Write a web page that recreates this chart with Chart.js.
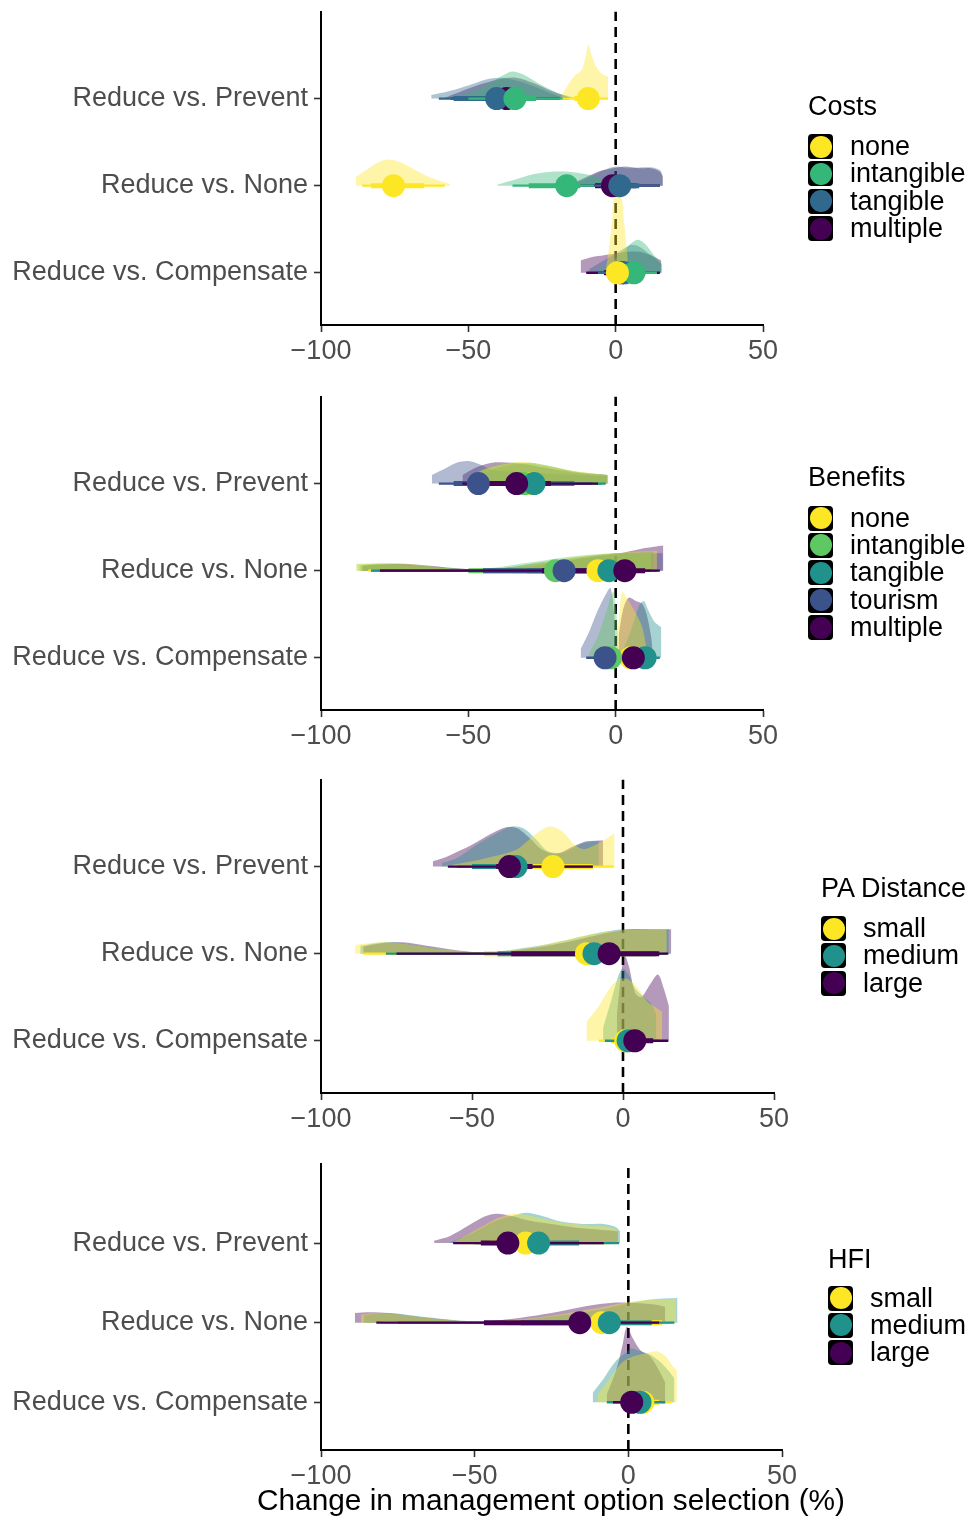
<!DOCTYPE html>
<html>
<head>
<meta charset="utf-8">
<script src="https://cdn.jsdelivr.net/npm/chart.js@4.4.1/dist/chart.umd.min.js"></script>
<style>
  body { margin: 0; background: #fff; width: 968px; height: 1516px; position: relative; overflow: hidden;
         font-family: "Liberation Sans", Arial, sans-serif; }
  canvas { position: absolute; left: 0; }
  .legend { position: absolute; color: #000; font-size: 27px; }
  .legend .ttl { position: absolute; left: 0; white-space: nowrap; line-height: 30px; }
  .legend .item { position: absolute; left: 0; white-space: nowrap; height: 26px; }
  .legend .key { position: absolute; left: 0; top: 0; width: 25px; height: 25px; background: #000; border-radius: 4px; }
  .legend .key i { position: absolute; left: 1.5px; top: 1.5px; width: 22px; height: 22px; border-radius: 50%; }
  .legend .lab { position: absolute; left: 42px; top: -2px; line-height: 28px; }
  #xtitle { position: absolute; left: 201px; width: 700px; top: 1483px; text-align: center; color: #000;
            font-size: 29.8px; line-height: 34px; white-space: nowrap; }
</style>
</head>
<body>
<canvas id="p1" width="968" height="385" style="top:0px"></canvas>
<canvas id="p2" width="968" height="385" style="top:385px"></canvas>
<canvas id="p3" width="968" height="385" style="top:768px"></canvas>
<canvas id="p4" width="968" height="364" style="top:1152px"></canvas>
<div id="xtitle">Change in management option selection (%)</div>
<script>
// rows (top to bottom) and their y positions
const rowLabels = ['Reduce vs. Prevent', 'Reduce vs. None', 'Reduce vs. Compensate'];
const rowBase = [3, 2, 1];
const xTicks = [-100, -50, 0, 50];

// ---- Costs ----
const costLevels = ['none', 'intangible', 'tangible', 'multiple'];
const costColors = ['#FDE725', '#35B779', '#31688E', '#440154'];
const costMedians = [[-9.3, -34.2, -40.4, -37], [-75.4, -16.6, 1.4, -1.1], [0.6, 6.2, 3, 2]];
const costInner = [
  [[-14, -6], [-42, -27], [-55, -28], [-48, -28]],
  [[-83, -65], [-29.5, -12], [-5, 8], [-7, 7]],
  [[-1, 2], [2, 10], [0, 9], [-4, 10]]
];
const costOuter = [
  [[-18, -2.6], [-50, -16], [-60, -22], [-56, -19]],
  [[-86, -58], [-35, -7.4], [-12, 15], [-14, 15]],
  [[-3, 4], [-2, 14], [-6, 14], [-10, 15]]
];
const costDensity = [
  [
    [[-18.4, 0.03], [-16.5, 0.14], [-14, 0.26], [-11.5, 0.33], [-10.2, 0.48], [-9.2, 0.62], [-8.2, 0.5], [-6.5, 0.36], [-4.5, 0.28], [-2.6, 0.25]],
    [[-57, 0.01], [-50, 0.06], [-43, 0.17], [-38, 0.27], [-35, 0.31], [-31, 0.27], [-26, 0.17], [-20, 0.07], [-14, 0.01]],
    [[-62.6, 0.04], [-57, 0.08], [-50, 0.15], [-44, 0.22], [-39, 0.24], [-33, 0.2], [-27, 0.13], [-22, 0.06], [-18.6, 0.02]],
    [[-58, 0.01], [-55, 0.05], [-48, 0.14], [-40, 0.22], [-34, 0.24], [-28, 0.18], [-22, 0.09], [-17, 0.03], [-15, 0.01]]
  ],
  [
    [[-88.2, 0.1], [-85, 0.17], [-81, 0.26], [-77.5, 0.3], [-73, 0.27], [-68, 0.18], [-64, 0.11], [-60, 0.06], [-56.2, 0.02]],
    [[-40.2, 0.01], [-34, 0.07], [-28, 0.13], [-22, 0.16], [-16, 0.16], [-10, 0.13], [-5, 0.08], [0, 0.03], [3, 0.01]],
    [[-14, 0.02], [-9, 0.1], [-4, 0.18], [0, 0.22], [4, 0.2], [8, 0.21], [12.5, 0.21], [15, 0.18], [16, 0.12]],
    [[-15, 0.02], [-10, 0.1], [-5, 0.17], [-1, 0.2], [3, 0.22], [8, 0.2], [12, 0.2], [15, 0.16], [16, 0.1]]
  ],
  [
    [[-3.4, 0.02], [-2.4, 0.25], [-1.2, 0.6], [-0.5, 0.87], [1.8, 0.87], [2.8, 0.6], [3.8, 0.25], [4.4, 0.02]],
    [[-6, 0.02], [-2, 0.1], [1, 0.2], [4, 0.3], [7.4, 0.38], [10, 0.33], [13, 0.2], [15.8, 0.1]],
    [[-9, 0.04], [-4, 0.14], [0, 0.22], [3, 0.28], [5, 0.32], [8, 0.3], [12, 0.2], [15.5, 0.1]],
    [[-11.9, 0.14], [-8, 0.18], [-4, 0.2], [0, 0.22], [4, 0.24], [8, 0.24], [12, 0.2], [15.5, 0.14]]
  ]
];
const costPointOrder = [3, 2, 1, 0];

// ---- Benefits ----
const benLevels = ['none', 'intangible', 'tangible', 'tourism', 'multiple'];
const benColors = ['#FDE725', '#5EC962', '#21918C', '#3B528B', '#440154'];
const benMedians = [[-30, -31, -27.7, -46.6, -33.6], [-6, -20.4, -2.3, -17.5, 3.1], [5.1, -1.7, 10, -3.6, 6]];
const benInner = [
  [[-41, -17], [-42, -18], [-40, -14], [-55, -32], [-44, -22]],
  [[-35, 5], [-50, -3], [-30, 7], [-45, -5], [-25, 10]],
  [[2, 8], [-5, 0], [6, 13], [-6, -1], [3, 9]]
];
const benOuter = [
  [[-49, -5], [-50, -5], [-48, -3.4], [-60, -8], [-52, -6]],
  [[-84, 14], [-83, 12], [-83, 14], [-80, 12], [-80, 15]],
  [[0.5, 10], [-8, 2], [3, 15], [-10, 2], [1, 12]]
];
const benDensity = [
  [
    [[-50, 0.07], [-44, 0.17], [-37, 0.23], [-31, 0.25], [-24, 0.21], [-15, 0.15], [-6, 0.11], [-2.7, 0.1]],
    [[-50, 0.08], [-44, 0.18], [-38, 0.23], [-32, 0.24], [-25, 0.21], [-16, 0.15], [-7, 0.11], [-3, 0.1]],
    [[-48, 0.06], [-42, 0.16], [-35, 0.22], [-29, 0.24], [-22, 0.2], [-14, 0.14], [-6, 0.11], [-2.5, 0.1]],
    [[-62.4, 0.1], [-58, 0.17], [-54, 0.24], [-50, 0.26], [-46, 0.22], [-42, 0.16], [-35, 0.14], [-25, 0.12], [-12, 0.1], [-2.8, 0.09]],
    [[-52, 0.1], [-47, 0.19], [-42, 0.24], [-36, 0.24], [-30, 0.22], [-22, 0.17], [-12, 0.12], [-3, 0.1]]
  ],
  [
    [[-88, 0.07], [-84, 0.08], [-76, 0.08], [-68, 0.07], [-58, 0.03], [-50, 0.01], [-40, 0.02], [-30, 0.06], [-20, 0.12], [-10, 0.17], [0, 0.2], [8, 0.22], [14, 0.23]],
    [[-88, 0.08], [-84, 0.08], [-76, 0.07], [-68, 0.05], [-58, 0.03], [-50, 0.02], [-40, 0.04], [-30, 0.09], [-20, 0.14], [-10, 0.18], [0, 0.2], [8, 0.2], [12, 0.2]],
    [[-87, 0.06], [-82, 0.08], [-75, 0.08], [-67, 0.06], [-57, 0.03], [-48, 0.01], [-38, 0.03], [-28, 0.07], [-18, 0.12], [-8, 0.17], [0, 0.2], [7, 0.21], [13, 0.22]],
    [[-86, 0.05], [-80, 0.07], [-73, 0.07], [-65, 0.05], [-55, 0.02], [-46, 0.01], [-36, 0.04], [-26, 0.09], [-16, 0.14], [-6, 0.18], [2, 0.2], [9, 0.2], [16, 0.2]],
    [[-86, 0.06], [-80, 0.07], [-72, 0.08], [-64, 0.06], [-55, 0.03], [-45, 0.01], [-35, 0.03], [-25, 0.07], [-15, 0.12], [-5, 0.17], [3, 0.21], [10, 0.26], [16.2, 0.29]]
  ],
  [
    [[0.5, 0.2], [1.5, 0.6], [2.3, 0.76], [3.5, 0.7], [5, 0.62], [7, 0.5], [9, 0.35], [10.5, 0.1]],
    [[-9, 0.05], [-6, 0.25], [-3, 0.55], [-1.5, 0.72], [-0.7, 0.76], [0.3, 0.5], [1, 0.1]],
    [[2, 0.05], [5, 0.3], [8, 0.6], [9.6, 0.65], [11, 0.55], [13, 0.42], [15.5, 0.35]],
    [[-11.9, 0.1], [-9, 0.3], [-6, 0.55], [-3, 0.75], [-1.7, 0.8], [-0.5, 0.5], [0, 0.1]],
    [[1, 0.25], [2.5, 0.55], [4.4, 0.69], [7, 0.65], [9, 0.62], [10.5, 0.5], [12, 0.25], [12.5, 0.1]]
  ]
];
const benPointOrder = [0, 1, 2, 3, 4];

// ---- PA Distance ----
const paLevels = ['small', 'medium', 'large'];
const paColors = ['#FDE725', '#21918C', '#440154'];
const paMedians = [[-23.2, -35.4, -37.6], [-12.1, -9.6, -4.6], [0.9, 1.7, 3.9]];
const paInner = [
  [[-30, -10], [-50, -30], [-42, -30]],
  [[-46, 10], [-41.5, 11], [-37, 12]],
  [[-4, 6], [-2, 6], [1, 10]]
];
const paOuter = [
  [[-56, -3], [-55, -10], [-58, -10]],
  [[-86, 14], [-78.5, 14.5], [-75, 15]],
  [[-8, 12], [-6, 12], [-2, 15]]
];
const paDensity = [
  [
    [[-58.6, 0.01], [-55, 0.03], [-45, 0.1], [-35, 0.2], [-29, 0.37], [-24.3, 0.46], [-20, 0.4], [-16, 0.25], [-13, 0.2], [-9, 0.25], [-5, 0.33], [-2.8, 0.38]],
    [[-60, 0.04], [-55, 0.1], [-48, 0.26], [-42, 0.38], [-37, 0.46], [-33, 0.44], [-29, 0.32], [-25, 0.18], [-20, 0.16], [-14, 0.26], [-10, 0.29], [-8, 0.29]],
    [[-63, 0.06], [-58, 0.12], [-50, 0.25], [-44, 0.37], [-39, 0.45], [-35, 0.44], [-31, 0.33], [-27, 0.2], [-22, 0.15], [-16, 0.24], [-12, 0.29], [-6.6, 0.3]]
  ],
  [
    [[-88.7, 0.1], [-84, 0.12], [-78, 0.13], [-70, 0.1], [-60, 0.05], [-50, 0.02], [-40, 0.03], [-30, 0.07], [-20, 0.15], [-10, 0.23], [0, 0.27], [8, 0.28], [14.5, 0.28]],
    [[-87, 0.09], [-82, 0.12], [-76, 0.13], [-68, 0.09], [-58, 0.04], [-48, 0.01], [-38, 0.04], [-28, 0.09], [-18, 0.16], [-8, 0.24], [0, 0.28], [8, 0.28], [15.2, 0.28]],
    [[-86, 0.08], [-80, 0.12], [-73, 0.13], [-65, 0.09], [-55, 0.04], [-45, 0.01], [-35, 0.04], [-25, 0.09], [-15, 0.16], [-5, 0.24], [3, 0.28], [10, 0.28], [16, 0.28]]
  ],
  [
    [[-12.1, 0.22], [-8, 0.4], [-4, 0.62], [-1, 0.71], [2, 0.7], [5, 0.6], [8, 0.45], [11, 0.38], [13, 0.33]],
    [[-6.6, 0.15], [-4, 0.45], [-1.5, 0.75], [0, 0.83], [2, 0.75], [4, 0.6], [7, 0.5], [9.5, 0.42], [11, 0.3]],
    [[-2, 0.3], [-0.5, 0.8], [0.6, 0.98], [2, 0.85], [4, 0.55], [6, 0.5], [9, 0.65], [11.6, 0.76], [13.5, 0.6], [15.2, 0.4]]
  ]
];
const paPointOrder = [0, 1, 2];

// ---- HFI ----
const hfiLevels = ['small', 'medium', 'large'];
const hfiColors = ['#FDE725', '#21918C', '#440154'];
const hfiMedians = [[-33.4, -29.2, -39.2], [-8.7, -6.2, -15.8], [4.7, 3.8, 1.1]];
const hfiInner = [
  [[-45, -25], [-38, -16], [-48, -30]],
  [[-40, 11], [-35, 7.6], [-47, -10]],
  [[1, 10], [0, 8], [-2, 4]]
];
const hfiOuter = [
  [[-54, -6], [-50, -3], [-57, -8]],
  [[-80, 14], [-75, 15], [-82, 10]],
  [[-4, 14], [-7, 12], [-5, 8]]
];
const hfiDensity = [
  [
    [[-57, 0.01], [-55, 0.05], [-48, 0.2], [-42, 0.32], [-37.6, 0.37], [-33, 0.35], [-27, 0.3], [-20, 0.25], [-12, 0.22], [-6, 0.2], [-3.3, 0.16]],
    [[-58, 0.01], [-56, 0.04], [-50, 0.14], [-43, 0.28], [-37, 0.35], [-33, 0.38], [-28, 0.34], [-22, 0.27], [-15, 0.24], [-8, 0.24], [-4, 0.2], [-2.7, 0.15]],
    [[-63.2, 0.03], [-58, 0.09], [-52, 0.22], [-47, 0.33], [-43, 0.37], [-38, 0.34], [-32, 0.28], [-25, 0.24], [-18, 0.2], [-10, 0.17], [-3.3, 0.15]]
  ],
  [
    [[-87, 0.1], [-82, 0.12], [-76, 0.11], [-68, 0.07], [-58, 0.03], [-48, 0.01], [-38, 0.03], [-28, 0.07], [-18, 0.13], [-8, 0.2], [0, 0.26], [8, 0.29], [15.5, 0.3]],
    [[-86, 0.09], [-80, 0.12], [-74, 0.11], [-66, 0.07], [-56, 0.03], [-46, 0.01], [-36, 0.03], [-26, 0.07], [-16, 0.12], [-6, 0.19], [2, 0.26], [10, 0.3], [16, 0.31]],
    [[-89, 0.12], [-84, 0.13], [-78, 0.12], [-70, 0.08], [-60, 0.04], [-50, 0.01], [-40, 0.04], [-30, 0.09], [-20, 0.16], [-12, 0.22], [-5, 0.25], [0, 0.25], [8, 0.23], [12, 0.2]]
  ],
  [
    [[-10, 0.1], [-6, 0.3], [-2, 0.5], [2, 0.58], [6, 0.62], [9.3, 0.64], [12, 0.58], [14.5, 0.45], [15.8, 0.4]],
    [[-11.6, 0.12], [-8, 0.3], [-4, 0.52], [0, 0.65], [1, 0.68], [4, 0.64], [7, 0.6], [10, 0.52], [13, 0.4], [15, 0.3]],
    [[-7, 0.1], [-4, 0.4], [-2, 0.7], [-0.5, 0.95], [1.5, 0.8], [4, 0.65], [7, 0.58], [10, 0.4], [12, 0.25]]
  ]
];
const hfiPointOrder = [0, 1, 2];

const FONT = '"Liberation Sans", Arial, sans-serif';

function withAlpha(hex, a) {
  const n = parseInt(hex.slice(1), 16);
  return `rgba(${(n >> 16) & 255}, ${(n >> 8) & 255}, ${n & 255}, ${a})`;
}

function buildDatasets(colors, medians, inner, outer, density, pointOrder) {
  const sets = [];
  // slabs: last level at the back, first level on top
  const slabOrder = colors.map((c, i) => i).reverse();
  // dashed reference line at zero (at the back)
  sets.push({
    data: [{ x: 0, y: 0.4 }, { x: 0, y: 4 }],
    borderColor: '#000', borderWidth: 2.6, borderDash: [10, 6], pointRadius: 0
  });
  rowBase.forEach((base, r) => {
    slabOrder.forEach(g => {
      sets.push({
        data: density[r][g].map(p => ({ x: p[0], y: base + p[1] })),
        borderColor: 'rgba(0,0,0,0)', borderWidth: 0,
        backgroundColor: withAlpha(colors[g], 0.4),
        fill: { value: base }, tension: 0.3, pointRadius: 0
      });
    });
  });
  // intervals: thin 95%, thick 66%
  rowBase.forEach((base, r) => {
    pointOrder.forEach(g => {
      sets.push({
        data: outer[r][g].map(v => ({ x: v, y: base })),
        borderColor: colors[g], borderWidth: 2.4, pointRadius: 0
      });
      sets.push({
        data: inner[r][g].map(v => ({ x: v, y: base })),
        borderColor: colors[g], borderWidth: 5, pointRadius: 0
      });
    });
  });
  // medians
  rowBase.forEach((base, r) => {
    pointOrder.forEach(g => {
      sets.push({
        data: [{ x: medians[r][g], y: base }],
        showLine: false, pointRadius: 11.5, pointBorderWidth: 0,
        pointBackgroundColor: colors[g], pointHoverRadius: 11.5
      });
    });
  });
  // later datasets on top
  sets.forEach((s, i) => { s.order = -i; });
  return sets;
}

function makePanel(id, padRight, xAxisH, datasets) {
  const minus = v => (v < 0 ? '\u2212' + Math.abs(v) : String(v));
  return new Chart(document.getElementById(id), {
    type: 'line',
    data: { datasets: datasets },
    options: {
      responsive: false,
      animation: false,
      events: [],
      layout: { padding: { top: 10, right: padRight, left: 0, bottom: 0 } },
      plugins: { legend: { display: false }, tooltip: { enabled: false } },
      scales: {
        x: {
          type: 'linear', min: -100, max: 50,
          afterBuildTicks: s => { s.ticks = xTicks.map(v => ({ value: v })); },
          afterFit: s => { s.height = xAxisH; s.paddingLeft = 0; s.paddingRight = 0; },
          grid: { display: true, drawOnChartArea: false, drawTicks: true, tickLength: 7, tickWidth: 1.6, tickColor: '#333' },
          border: { display: true, color: '#000', width: 2 },
          ticks: { color: '#4D4D4D', font: { family: FONT, size: 27 }, padding: 3, maxRotation: 0, callback: minus }
        },
        y: {
          type: 'linear', min: 0.4, max: 4,
          afterBuildTicks: s => { s.ticks = rowBase.map(v => ({ value: v })); },
          afterFit: s => { s.width = 321; s.paddingTop = 0; s.paddingBottom = 0; },
          grid: { display: true, drawOnChartArea: false, drawTicks: true, tickLength: 7, tickWidth: 1.6, tickColor: '#333' },
          border: { display: true, color: '#000', width: 2 },
          ticks: { color: '#4D4D4D', font: { family: FONT, size: 27 }, padding: 6,
                   callback: v => rowLabels[rowBase.indexOf(v)] }
        }
      }
    }
  });
}

function makeLegend(title, levels, colors, left, titleY, firstY) {
  const box = document.createElement('div');
  box.className = 'legend';
  box.style.left = left + 'px';
  box.style.top = '0px';
  const t = document.createElement('div');
  t.className = 'ttl';
  t.textContent = title;
  t.style.top = (titleY - 15) + 'px';
  box.appendChild(t);
  levels.forEach((lv, i) => {
    const it = document.createElement('div');
    it.className = 'item';
    it.style.top = (firstY + i * 27.4 - 12.5) + 'px';
    it.innerHTML = `<div class="key"><i style="background:${colors[i]}"></i></div><span class="lab">${lv}</span>`;
    box.appendChild(it);
  });
  document.body.appendChild(box);
}

makePanel('p1', 205, 60, buildDatasets(costColors, costMedians, costInner, costOuter, costDensity, costPointOrder));
makePanel('p2', 205, 60, buildDatasets(benColors, benMedians, benInner, benOuter, benDensity, benPointOrder));
makePanel('p3', 194, 60, buildDatasets(paColors, paMedians, paInner, paOuter, paDensity, paPointOrder));
makePanel('p4', 186, 66, buildDatasets(hfiColors, hfiMedians, hfiInner, hfiOuter, hfiDensity, hfiPointOrder));

makeLegend('Costs', costLevels, costColors, 808, 106, 146.5);
makeLegend('Benefits', benLevels, benColors, 808, 477, 518);
makeLegend('PA Distance', paLevels, paColors, 821, 888, 928.5);
makeLegend('HFI', hfiLevels, hfiColors, 828, 1259, 1298);
</script>
</body>
</html>
